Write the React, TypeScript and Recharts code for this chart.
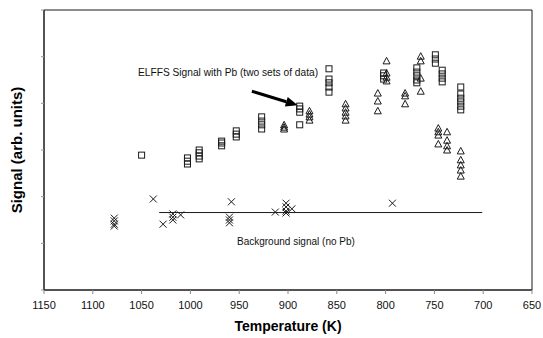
import { ScatterChart, Scatter, XAxis, YAxis, ReferenceLine, ReferenceArea } from "recharts";

// ELFFS signal with Pb, first data set (squares) [temperature K, signal]
const squares: [number, number][] = [
  [1050, 2.89],
  [1003, 2.83], [1003, 2.76], [1003, 2.7],
  [991, 3.0], [991, 2.94], [991, 2.87], [991, 2.81],
  [968, 3.19], [968, 3.15], [968, 3.09],
  [953, 3.41], [953, 3.34], [953, 3.28],
  [927, 3.71], [927, 3.62], [927, 3.54], [927, 3.45],
  [888, 3.94], [888, 3.88], [888, 3.81], [888, 3.54],
  [858, 4.74], [858, 4.52], [858, 4.44], [858, 4.35], [858, 4.24],
  [802, 4.65], [802, 4.59], [802, 4.52],
  [768, 4.76], [768, 4.67], [768, 4.59], [768, 4.5], [768, 4.44],
  [749, 5.04], [749, 4.95], [749, 4.86],
  [742, 4.71], [742, 4.63], [742, 4.54], [742, 4.46],
  [723, 4.35], [723, 4.2], [723, 4.11], [723, 4.03], [723, 3.94], [723, 3.86],
];

// second data set (triangles)
const triangles: [number, number][] = [
  [904, 3.54], [904, 3.49], [904, 3.45],
  [878, 3.84], [878, 3.77], [878, 3.71], [878, 3.64],
  [841, 3.99], [841, 3.9], [841, 3.81], [841, 3.73], [841, 3.64],
  [808, 4.22], [808, 4.05], [808, 3.84],
  [799, 4.91], [799, 4.65], [799, 4.56], [799, 4.48],
  [780, 4.22], [780, 4.16], [780, 3.99],
  [764, 5.01], [764, 4.91], [764, 4.54], [764, 4.26],
  [746, 3.47], [746, 3.39], [746, 3.32], [746, 3.13],
  [737, 3.39], [737, 3.21], [737, 3.09], [737, 3.0],
  [723, 2.98], [723, 2.79], [723, 2.68], [723, 2.57], [723, 2.44],
];

// background signal, no Pb (crosses)
const crosses: [number, number][] = [
  [1078, 1.54], [1078, 1.48], [1078, 1.41], [1078, 1.37],
  [1038, 1.95],
  [1028, 1.41],
  [1018, 1.63], [1018, 1.56], [1018, 1.5],
  [1010, 1.61],
  [958, 1.89],
  [960, 1.56], [960, 1.5], [960, 1.44],
  [913, 1.67],
  [902, 1.86], [902, 1.78], [902, 1.69], [902, 1.65],
  [896, 1.74],
  [793, 1.86],
];

const backgroundLevel = 1.66;
const backgroundRange = [1032, 701];
const arrowFrom = [937, 4.26];
const arrowTo = [890, 3.96];

const xTicks = [1150, 1100, 1050, 1000, 950, 900, 850, 800, 750, 700, 650];
const yTicks = [0, 1, 2, 3, 4, 5, 6];

const toPoints = (arr: [number, number][]) => arr.map(([t, s]) => ({ t, s }));

const ink = "#1a1a1a";

const Square = (p: any) => (
  <rect x={p.cx - 3} y={p.cy - 3} width={6} height={6} fill="none" stroke={ink} strokeWidth={1} />
);

const Triangle = (p: any) => (
  <path
    d={`M${p.cx},${p.cy - 3.5} L${p.cx + 3.5},${p.cy + 3} L${p.cx - 3.5},${p.cy + 3} Z`}
    fill="none"
    stroke={ink}
    strokeWidth={1}
  />
);

const Cross = (p: any) => (
  <g stroke={ink} strokeWidth={1}>
    <line x1={p.cx - 3.5} y1={p.cy - 3.5} x2={p.cx + 3.5} y2={p.cy + 3.5} />
    <line x1={p.cx - 3.5} y1={p.cy + 3.5} x2={p.cx + 3.5} y2={p.cy - 3.5} />
  </g>
);

// arrow drawn along a reference segment
const Arrow = (p: any) => {
  const { x1, y1, x2, y2 } = p;
  const a = Math.atan2(y2 - y1, x2 - x1);
  const len = 12;
  const w = 5;
  const bx = x2 - len * Math.cos(a);
  const by = y2 - len * Math.sin(a);
  const nx = -Math.sin(a) * w;
  const ny = Math.cos(a) * w;
  return (
    <g>
      <line x1={x1} y1={y1} x2={bx} y2={by} stroke="#000" strokeWidth={3} />
      <polygon points={`${x2},${y2} ${bx + nx},${by + ny} ${bx - nx},${by - ny}`} fill="#000" />
    </g>
  );
};

export default function App() {
  return (
    <div
      style={{
        position: "absolute",
        left: 0,
        top: 0,
        width: 543,
        height: 338,
        background: "#fff",
        fontFamily: "Arial, 'Liberation Sans', sans-serif",
      }}
    >
      <ScatterChart width={543} height={338} margin={{ top: 10, right: 11, bottom: 18, left: 4 }}>
        <XAxis
          type="number"
          dataKey="t"
          domain={[650, 1150]}
          ticks={xTicks}
          reversed
          allowDataOverflow
          tickSize={4}
          tickMargin={7}
          height={30}
          axisLine={{ stroke: ink }}
          tickLine={{ stroke: "#888" }}
          tick={{ fill: "#111", fontSize: 11 }}
          label={{
            value: "Temperature (K)",
            position: "bottom",
            offset: 1,
            style: { fontSize: 14, fontWeight: "bold", fill: "#000" },
          }}
        />
        <YAxis
          type="number"
          dataKey="s"
          domain={[0, 6]}
          ticks={yTicks}
          width={40}
          tickSize={3}
          tickFormatter={() => ""}
          axisLine={{ stroke: ink }}
          tickLine={{ stroke: "#999" }}
          label={{
            value: "Signal (arb. units)",
            angle: -90,
            position: "insideLeft",
            offset: 13,
            style: { fontSize: 15, fontWeight: "bold", fill: "#000", textAnchor: "middle" },
          }}
        />
        {/* plot frame */}
        <ReferenceArea x1={650} x2={1150} y1={0} y2={6} fill="none" stroke={ink} strokeWidth={1} fillOpacity={0} />
        <ReferenceLine
          segment={[
            { x: backgroundRange[0], y: backgroundLevel },
            { x: backgroundRange[1], y: backgroundLevel },
          ]}
          stroke={ink}
          strokeWidth={1}
        />
        <Scatter data={toPoints(squares)} shape={Square} isAnimationActive={false} />
        <Scatter data={toPoints(triangles)} shape={Triangle} isAnimationActive={false} />
        <Scatter data={toPoints(crosses)} shape={Cross} isAnimationActive={false} />
        <ReferenceLine
          segment={[
            { x: arrowFrom[0], y: arrowFrom[1] },
            { x: arrowTo[0], y: arrowTo[1] },
          ]}
          shape={Arrow}
        />
      </ScatterChart>
      <div style={{ position: "absolute", left: 138, top: 67, fontSize: 10.2, color: "#111", whiteSpace: "nowrap" }}>
        ELFFS Signal with Pb (two sets of data)
      </div>
      <div style={{ position: "absolute", left: 237, top: 236, fontSize: 10, color: "#111", whiteSpace: "nowrap" }}>
        Background signal (no Pb)
      </div>
    </div>
  );
}
